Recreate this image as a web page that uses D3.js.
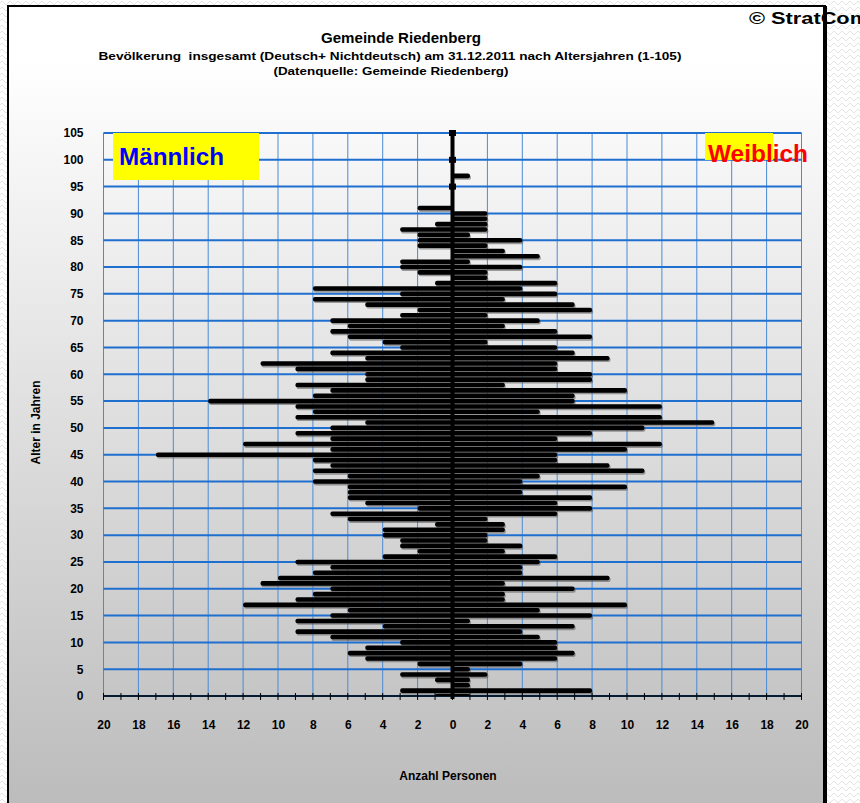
<!DOCTYPE html>
<html>
<head>
<meta charset="utf-8">
<script src="https://cdn.jsdelivr.net/npm/d3@7"></script>
<style>
  html, body { margin: 0; padding: 0; background: #fff; }
  svg { display: block; font-family: "Liberation Sans", Arial, sans-serif; }
</style>
</head>
<body>
<div id="chart"></div>
<script>
// ages 0..105
const ages = d3.range(0, 106);
const maennlich = [
  1, 3, 0, 1, 3, 0, 2, 5, 6, 5,
  3, 7, 9, 4, 9, 7, 6, 12, 9, 8,
  7, 11, 10, 8, 7, 9, 4, 2, 3, 3,
  4, 4, 1, 6, 7, 2, 5, 6, 6, 6,
  8, 6, 8, 7, 8, 17, 7, 12, 7, 9,
  7, 5, 9, 8, 9, 14, 8, 7, 9, 5,
  5, 9, 11, 5, 7, 3, 4, 6, 7, 6,
  7, 3, 2, 5, 8, 3, 8, 1, 0, 2,
  3, 3, 0, 0, 2, 2, 2, 3, 1, 0,
  0, 2, 0, 0, 0, 0, 0, 0, 0, 0,
  0, 0, 0, 0, 0, 0
];
const weiblich = [
  1, 8, 1, 1, 2, 1, 4, 6, 7, 6,
  6, 5, 4, 7, 1, 8, 5, 10, 3, 3,
  7, 3, 9, 4, 4, 5, 6, 3, 4, 2,
  2, 3, 3, 2, 6, 8, 6, 8, 4, 10,
  4, 5, 11, 9, 6, 6, 10, 12, 6, 8,
  11, 15, 12, 5, 12, 7, 7, 10, 3, 8,
  8, 6, 6, 9, 7, 6, 2, 8, 6, 3,
  5, 2, 8, 7, 3, 6, 4, 6, 2, 2,
  4, 1, 5, 3, 2, 4, 1, 2, 2, 2,
  2, 0, 0, 0, 0, 0, 0, 1, 0, 0,
  0, 0, 0, 0, 0, 0
];
const markerAges = [95, 100, 105];
const xTicks = d3.range(-20, 21, 2);
const yTicks = d3.range(0, 106, 5);

const W = 860, H = 803;
const svg = d3.select("#chart").append("svg")
  .attr("width", W).attr("height", H);

const defs = svg.append("defs");

// zigzag page background
const pat = defs.append("pattern")
  .attr("id", "zig").attr("width", 8).attr("height", 6)
  .attr("patternUnits", "userSpaceOnUse");
pat.append("path")
  .attr("d", "M0,3 L2,1 L6,5 L8,3")
  .attr("fill", "none").attr("stroke", "#e4e4e4").attr("stroke-width", 1);

const grad = defs.append("linearGradient")
  .attr("id", "bg").attr("gradientUnits", "userSpaceOnUse")
  .attr("x1", 0).attr("y1", 60).attr("x2", 0).attr("y2", 803);
grad.append("stop").attr("offset", 0).attr("stop-color", "#ffffff");
grad.append("stop").attr("offset", 1).attr("stop-color", "#bcbcbc");

svg.append("rect").attr("width", W).attr("height", H).attr("fill", "#fff");
svg.append("rect").attr("width", W).attr("height", H).attr("fill", "url(#zig)");

// chart frame
svg.append("rect")
  .attr("x", 8).attr("y", 6).attr("width", 817).attr("height", 805)
  .attr("fill", "url(#bg)").attr("stroke", "#000").attr("stroke-width", 2);
svg.append("line")
  .attr("x1", 825).attr("x2", 825).attr("y1", 6).attr("y2", H)
  .attr("stroke", "#000").attr("stroke-width", 4);

const x = d3.scaleLinear().domain([-20, 20]).range([103.5, 801.5]);
const y = d3.scaleLinear().domain([0, 105]).range([696, 133]);

defs.append("clipPath").attr("id", "plotclip")
  .append("rect")
  .attr("x", x(-20)).attr("y", y(105) - 3)
  .attr("width", x(20) - x(-20)).attr("height", y(0) - y(105) + 3);

// grid
const grid = svg.append("g");
grid.selectAll(".vg").data(xTicks).join("line")
  .attr("x1", d => x(d)).attr("x2", d => x(d))
  .attr("y1", y(105)).attr("y2", y(0))
  .attr("stroke", "#4a8bd6").attr("stroke-width", 1);
grid.selectAll(".hg").data(yTicks).join("line")
  .attr("x1", x(-20)).attr("x2", x(20))
  .attr("y1", d => y(d)).attr("y2", d => y(d))
  .attr("stroke", "#1e6fcf").attr("stroke-width", 2);

// Männlich / Weiblich labels
svg.append("rect").attr("x", 113).attr("y", 133).attr("width", 146).attr("height", 47).attr("fill", "#ffff00");
svg.append("text").attr("x", 119).attr("y", 165)
  .attr("font-size", 24).attr("font-weight", "bold").attr("fill", "#0000ff")
  .attr("textLength", 105).attr("lengthAdjust", "spacingAndGlyphs")
  .text("Männlich");
svg.append("rect").attr("x", 705).attr("y", 133).attr("width", 68).attr("height", 27).attr("fill", "#ffff00");
svg.append("text").attr("x", 708).attr("y", 162)
  .attr("font-size", 24).attr("font-weight", "bold").attr("fill", "#ff0000")
  .attr("textLength", 100).attr("lengthAdjust", "spacingAndGlyphs")
  .text("Weiblich");

// bars
const rows = ages.map((a, i) => ({ age: a, m: maennlich[i], f: weiblich[i] }))
  .filter(d => d.m > 0 || d.f > 0);
const bh = 4.6;
const bars = svg.append("g").attr("clip-path", "url(#plotclip)");
bars.selectAll(".shadow").data(rows).join("rect")
  .attr("x", d => x(-d.m) + 1).attr("y", d => y(d.age) - bh / 2 + 1.6)
  .attr("width", d => x(d.f) - x(-d.m)).attr("height", bh)
  .attr("rx", 2).attr("fill", "#555").attr("opacity", 0.55);
bars.selectAll(".bar").data(rows).join("rect")
  .attr("x", d => x(-d.m)).attr("y", d => y(d.age) - bh / 2)
  .attr("width", d => x(d.f) - x(-d.m)).attr("height", bh)
  .attr("rx", 2).attr("fill", "#000");

// center line
svg.append("line")
  .attr("x1", x(0)).attr("x2", x(0))
  .attr("y1", y(105)).attr("y2", y(0) + 3)
  .attr("stroke", "#000").attr("stroke-width", 4);
svg.selectAll(".mk").data(markerAges).join("rect")
  .attr("x", x(0) - 3.5).attr("y", d => y(d) - 3)
  .attr("width", 7).attr("height", 6).attr("fill", "#000");

// x axis with crossing ticks
svg.append("line")
  .attr("x1", x(-20)).attr("x2", x(20)).attr("y1", y(0)).attr("y2", y(0))
  .attr("stroke", "#000").attr("stroke-width", 1.5);
svg.selectAll(".xt").data(d3.range(-20, 21)).join("line")
  .attr("x1", d => x(d)).attr("x2", d => x(d))
  .attr("y1", y(0) - 3).attr("y2", y(0) + 4)
  .attr("stroke", "#000").attr("stroke-width", 1);

svg.append("g")
  .attr("transform", `translate(0,${y(0)})`)
  .call(d3.axisBottom(x).tickValues(xTicks).tickSize(0).tickPadding(24)
    .tickFormat(d => Math.abs(d)))
  .call(g => g.select(".domain").remove())
  .call(g => g.selectAll("text")
    .attr("font-family", "Liberation Sans, Arial, sans-serif")
    .attr("font-size", 12).attr("font-weight", "bold").attr("fill", "#000"));

// y axis labels
svg.append("g")
  .attr("transform", `translate(${x(-20)},0)`)
  .call(d3.axisLeft(y).tickValues(yTicks).tickSize(0).tickPadding(20))
  .call(g => g.select(".domain").remove())
  .call(g => g.selectAll("text")
    .attr("font-family", "Liberation Sans, Arial, sans-serif")
    .attr("font-size", 12).attr("font-weight", "bold").attr("fill", "#000"));

// titles
svg.append("text").attr("x", 401).attr("y", 43).attr("text-anchor", "middle")
  .attr("font-size", 14).attr("font-weight", "bold")
  .attr("textLength", 160).attr("lengthAdjust", "spacingAndGlyphs")
  .text("Gemeinde Riedenberg");
svg.append("text").attr("x", 390).attr("y", 60).attr("text-anchor", "middle")
  .attr("font-size", 11.5).attr("font-weight", "bold").attr("xml:space", "preserve")
  .attr("textLength", 583).attr("lengthAdjust", "spacingAndGlyphs")
  .text("Bevölkerung  insgesamt (Deutsch+ Nichtdeutsch) am 31.12.2011 nach Altersjahren (1-105)");
svg.append("text").attr("x", 391).attr("y", 75).attr("text-anchor", "middle")
  .attr("font-size", 11.5).attr("font-weight", "bold")
  .attr("textLength", 235).attr("lengthAdjust", "spacingAndGlyphs")
  .text("(Datenquelle: Gemeinde Riedenberg)");
svg.append("text").attr("x", 749).attr("y", 24)
  .attr("font-size", 16).attr("font-weight", "bold")
  .attr("textLength", 120).attr("lengthAdjust", "spacingAndGlyphs")
  .text("© StratCom");

svg.append("text").attr("x", 448).attr("y", 780).attr("text-anchor", "middle")
  .attr("font-size", 12).attr("font-weight", "bold")
  .text("Anzahl Personen");
svg.append("text")
  .attr("transform", `translate(40,${(y(0) + y(105)) / 2 + 8}) rotate(-90)`)
  .attr("text-anchor", "middle")
  .attr("font-size", 12).attr("font-weight", "bold")
  .text("Alter in Jahren");
</script>
</body>
</html>
